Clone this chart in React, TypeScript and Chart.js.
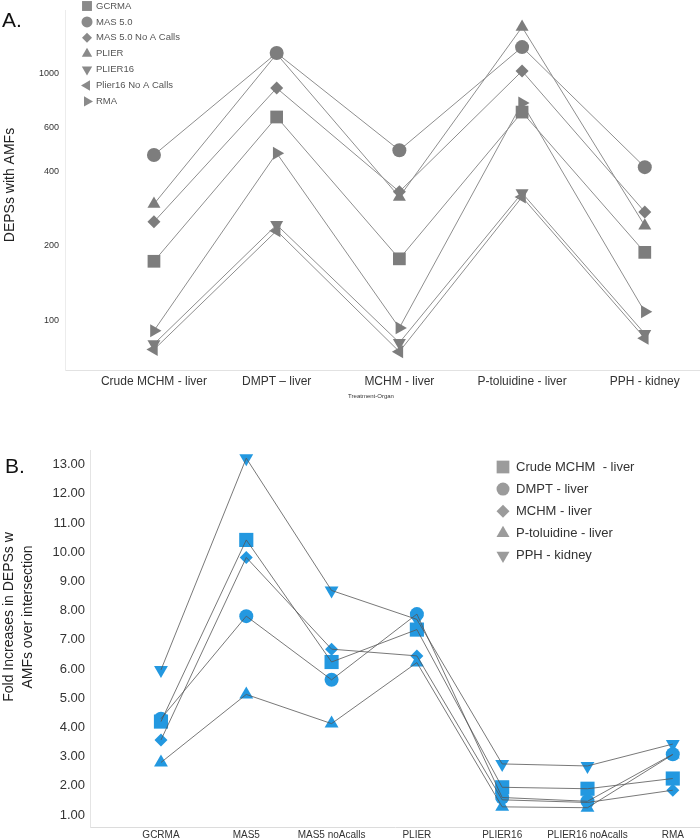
import React, { useEffect, useRef } from 'react';
import { Chart, registerables } from 'chart.js';
import { drawPoint } from 'chart.js/helpers';

Chart.register(...registerables);

// ---------- Panel A data ----------
const treatmentsA = ['Crude MCHM - liver', 'DMPT \u2013 liver', 'MCHM - liver', 'P-toluidine - liver', 'PPH - kidney'];
const methodsA = ['GCRMA', 'MAS 5.0', 'MAS 5.0 No A Calls', 'PLIER', 'PLIER16', 'Plier16 No A Calls', 'RMA'];
const gcrmaA = [173, 664, 177, 695, 188];
const mas5A = [466, 1205, 487, 1274, 416];
const mas5NoAA = [250, 869, 331, 1019, 274];
const plierA = [295, 1195, 315, 1535, 241];
const plier16A = [80, 243, 81, 327, 88];
const plier16NoAA = [76, 230, 74.5, 315, 84.5];
const rmaA = [90.6, 474, 93, 756, 108];
const yTicksA = [100, 200, 400, 600, 1000];

// ---------- Panel B data ----------
const methodsB = ['GCRMA', 'MAS5', 'MAS5 noAcalls', 'PLIER', 'PLIER16', 'PLIER16 noAcalls', 'RMA'];
const treatmentsB = ['Crude MCHM  - liver', 'DMPT - liver', 'MCHM - liver', 'P-toluidine - liver', 'PPH - kidney'];
const crudeB = [4.2, 10.42, 6.24, 7.35, 1.95, 1.9, 2.25];
const dmptB = [4.3, 7.81, 5.63, 7.88, 1.6, 1.47, 3.08];
const mchmB = [3.57, 9.82, 6.68, 6.45, 1.52, 1.43, 1.85];
const ptolB = [2.8, 5.13, 4.13, 6.22, 1.28, 1.25, 3.07];
const pphB = [5.97, 13.22, 8.69, 7.7, 2.75, 2.68, 3.43];
const yTicksB = [1, 2, 3, 4, 5, 6, 7, 8, 9, 10, 11, 12, 13];

const FONT = "'Liberation Sans', Arial, sans-serif";
Chart.defaults.font.family = FONT;

const seriesA = [gcrmaA, mas5A, mas5NoAA, plierA, plier16A, plier16NoAA, rmaA];
const seriesB = [crudeB, dmptB, mchmB, ptolB, pphB];

const shapesA = [
  { pointStyle: 'rect', radius: 9, rotation: 0 },
  { pointStyle: 'circle', radius: 7, rotation: 0 },
  { pointStyle: 'rectRot', radius: 6.5, rotation: 0 },
  { pointStyle: 'triangle', radius: 7.5, rotation: 0 },
  { pointStyle: 'triangle', radius: 7.5, rotation: 180 },
  { pointStyle: 'triangle', radius: 7.5, rotation: -90 },
  { pointStyle: 'triangle', radius: 7.5, rotation: 90 },
];
const legendShapesA = [
  { pointStyle: 'rect', radius: 7, rotation: 0 },
  { pointStyle: 'circle', radius: 5.5, rotation: 0 },
  { pointStyle: 'rectRot', radius: 5, rotation: 0 },
  { pointStyle: 'triangle', radius: 6, rotation: 0 },
  { pointStyle: 'triangle', radius: 6, rotation: 180 },
  { pointStyle: 'triangle', radius: 6, rotation: -90 },
  { pointStyle: 'triangle', radius: 6, rotation: 90 },
];
const shapesB = [
  { pointStyle: 'rect', radius: 10, rotation: 0 },
  { pointStyle: 'circle', radius: 7, rotation: 0 },
  { pointStyle: 'rectRot', radius: 6.5, rotation: 0 },
  { pointStyle: 'triangle', radius: 8, rotation: 0 },
  { pointStyle: 'triangle', radius: 8, rotation: 180 },
];
const legendShapesB = [
  { pointStyle: 'rect', radius: 9, rotation: 0 },
  { pointStyle: 'circle', radius: 6.5, rotation: 0 },
  { pointStyle: 'rectRot', radius: 6.5, rotation: 0 },
  { pointStyle: 'triangle', radius: 7.5, rotation: 0 },
  { pointStyle: 'triangle', radius: 7.5, rotation: 180 },
];

const GRAY_MARK = '#7d7d7d';
const GRAY_LINE = '#8e8e8e';
const BLUE = '#2398e0';

const noPad = (s: any) => {
  s.paddingLeft = 0;
  s.paddingRight = 0;
  s.paddingTop = 0;
  s.paddingBottom = 0;
};

const decorA = {
  id: 'decorA',
  afterDraw(chart: any) {
    const ctx = chart.ctx;
    ctx.save();
    ctx.fillStyle = '#111';
    ctx.font = `21px ${FONT}`;
    ctx.textBaseline = 'alphabetic';
    ctx.textAlign = 'left';
    ctx.fillText('A.', 2, 27);
    ctx.save();
    ctx.translate(10, 185);
    ctx.rotate(-Math.PI / 2);
    ctx.textAlign = 'center';
    ctx.textBaseline = 'middle';
    ctx.font = `14px ${FONT}`;
    ctx.fillStyle = '#222';
    ctx.fillText('DEPSs with AMFs', 0, 0);
    ctx.restore();
    ctx.font = `6px ${FONT}`;
    ctx.fillStyle = '#333';
    ctx.textAlign = 'center';
    ctx.textBaseline = 'middle';
    ctx.fillText('Treatment-Organ', 371, 396);
    methodsA.forEach((name, i) => {
      const y = 6 + i * 15.9;
      ctx.fillStyle = '#8a8a8a';
      drawPoint(ctx, { ...legendShapesA[i], borderWidth: 0 } as any, 87, y);
      ctx.fillStyle = '#555';
      ctx.font = `9.5px ${FONT}`;
      ctx.textAlign = 'left';
      ctx.textBaseline = 'middle';
      ctx.fillText(name, 96, y);
    });
    ctx.restore();
  },
};

const decorB = {
  id: 'decorB',
  afterDraw(chart: any) {
    const ctx = chart.ctx;
    ctx.save();
    ctx.fillStyle = '#111';
    ctx.font = `21px ${FONT}`;
    ctx.textBaseline = 'alphabetic';
    ctx.textAlign = 'left';
    ctx.fillText('B.', 5, 63);
    ctx.save();
    ctx.translate(9, 207);
    ctx.rotate(-Math.PI / 2);
    ctx.textAlign = 'center';
    ctx.textBaseline = 'middle';
    ctx.font = `14px ${FONT}`;
    ctx.fillStyle = '#222';
    ctx.fillText('Fold Increases in DEPSs w', 0, 0);
    ctx.fillText('AMFs over intersection', 0, 19);
    ctx.restore();
    treatmentsB.forEach((name, i) => {
      const y = 57 + i * 22.1;
      ctx.fillStyle = '#9b9b9b';
      drawPoint(ctx, { ...legendShapesB[i], borderWidth: 0 } as any, 503, y);
      ctx.fillStyle = '#333';
      ctx.font = `13px ${FONT}`;
      ctx.textAlign = 'left';
      ctx.textBaseline = 'middle';
      ctx.fillText(name, 516, y);
    });
    ctx.restore();
  },
};

function makeConfigA(): any {
  return {
    type: 'line',
    data: {
      datasets: seriesA.map((vals, i) => ({
        label: methodsA[i],
        data: vals.map((v, j) => ({ x: j, y: v })),
        borderColor: GRAY_LINE,
        borderWidth: 1,
        backgroundColor: GRAY_MARK,
        pointBackgroundColor: GRAY_MARK,
        pointBorderWidth: 0,
        pointStyle: shapesA[i].pointStyle,
        pointRadius: shapesA[i].radius,
        pointRotation: shapesA[i].rotation,
        tension: 0,
        clip: false,
      })),
    },
    options: {
      responsive: false,
      animation: false,
      events: [],
      layout: { autoPadding: false, padding: { top: 10, left: 0, right: 0, bottom: 0 } },
      plugins: { legend: { display: false }, tooltip: { enabled: false } },
      scales: {
        x: {
          type: 'linear',
          min: -0.725,
          max: 4.45,
          afterBuildTicks: (s: any) => {
            s.ticks = treatmentsA.map((_, i) => ({ value: i }));
          },
          afterFit: (s: any) => {
            s.height = 40;
            noPad(s);
          },
          ticks: {
            callback: (v: any) => treatmentsA[v] ?? '',
            font: { size: 12 },
            color: '#333',
            padding: 4,
            maxRotation: 0,
            autoSkip: false,
          },
          grid: { display: false, drawTicks: false },
          border: { color: '#e2e2e2' },
        },
        y: {
          type: 'logarithmic',
          min: 62.8,
          max: 1800,
          afterBuildTicks: (s: any) => {
            s.ticks = yTicksA.map((v) => ({ value: v }));
          },
          afterFit: (s: any) => {
            s.width = 65;
            noPad(s);
          },
          ticks: {
            callback: (v: any) => String(v),
            font: { size: 9 },
            color: '#333',
            padding: 6,
          },
          grid: { display: false, drawTicks: false },
          border: { color: '#ececec' },
        },
      },
    },
    plugins: [decorA],
  };
}

function makeConfigB(): any {
  const lineSets = seriesB.map((vals, i) => ({
    label: treatmentsB[i] + ' line',
    data: vals.map((v, j) => ({ x: j, y: v })),
    borderColor: '#555',
    borderWidth: 0.8,
    pointRadius: 0,
    tension: 0,
    order: 0,
    clip: false,
  }));
  const pointSets = seriesB.map((vals, i) => ({
    label: treatmentsB[i],
    data: vals.map((v, j) => ({ x: j, y: v })),
    showLine: false,
    backgroundColor: BLUE,
    pointBackgroundColor: BLUE,
    pointBorderWidth: 0,
    pointStyle: shapesB[i].pointStyle,
    pointRadius: shapesB[i].radius,
    pointRotation: shapesB[i].rotation,
    order: 1,
    clip: false,
  }));
  return {
    type: 'line',
    data: { datasets: [...pointSets, ...lineSets] },
    options: {
      responsive: false,
      animation: false,
      events: [],
      layout: { autoPadding: false, padding: { top: 40, left: 0, right: 0, bottom: 0 } },
      plugins: { legend: { display: false }, tooltip: { enabled: false } },
      scales: {
        x: {
          type: 'linear',
          min: -0.832,
          max: 6.319,
          afterBuildTicks: (s: any) => {
            s.ticks = methodsB.map((_, i) => ({ value: i }));
          },
          afterFit: (s: any) => {
            s.height = 11;
            noPad(s);
          },
          ticks: {
            callback: (v: any) => methodsB[v] ?? '',
            font: { size: 10 },
            color: '#333',
            padding: 2,
            maxRotation: 0,
            autoSkip: false,
          },
          grid: { display: false, drawTicks: false },
          border: { color: '#dcdcdc' },
        },
        y: {
          type: 'linear',
          min: 0.59,
          max: 13.5,
          afterBuildTicks: (s: any) => {
            s.ticks = yTicksB.map((v) => ({ value: v }));
          },
          afterFit: (s: any) => {
            s.width = 90;
            noPad(s);
          },
          ticks: {
            callback: (v: any) => Number(v).toFixed(2),
            font: { size: 13 },
            color: '#333',
            padding: 5,
          },
          grid: { display: false, drawTicks: false },
          border: { color: '#e4e4e4' },
        },
      },
    },
    plugins: [decorB],
  };
}

export default function App() {
  const refA = useRef<HTMLCanvasElement>(null);
  const refB = useRef<HTMLCanvasElement>(null);
  useEffect(() => {
    const a = new Chart(refA.current as HTMLCanvasElement, makeConfigA());
    const b = new Chart(refB.current as HTMLCanvasElement, makeConfigB());
    return () => {
      a.destroy();
      b.destroy();
    };
  }, []);
  return (
    <div style={{ position: 'fixed', left: 0, top: 0, width: 700, height: 838, background: '#fff' }}>
      <canvas
        ref={refA}
        width={700}
        height={410}
        style={{ position: 'absolute', left: 0, top: 0, width: 700, height: 410, display: 'block' }}
      />
      <canvas
        ref={refB}
        width={700}
        height={428}
        style={{ position: 'absolute', left: 0, top: 410, width: 700, height: 428, display: 'block' }}
      />
    </div>
  );
}
